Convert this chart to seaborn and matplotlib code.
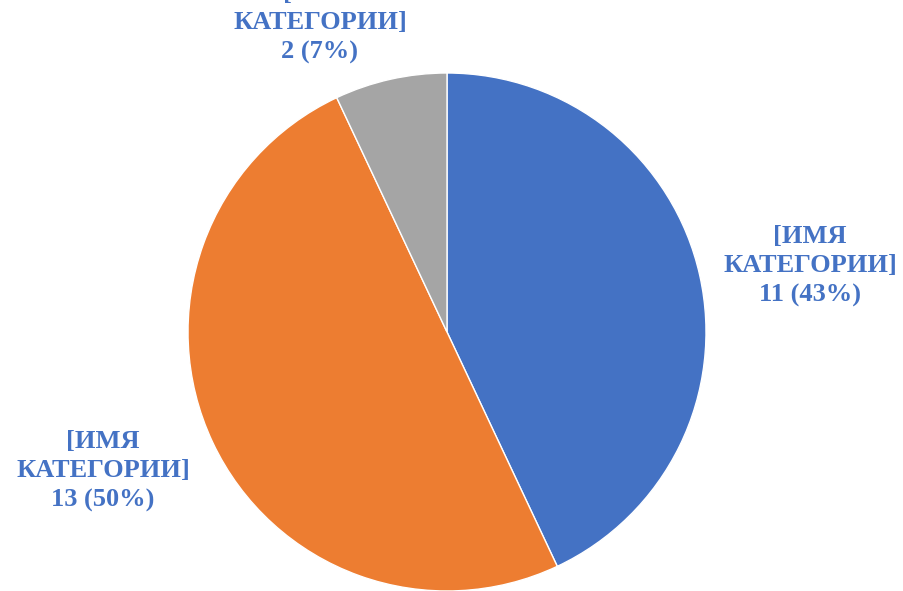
import matplotlib
matplotlib.use("Agg")
import matplotlib.pyplot as plt
import seaborn as sns

sns.set_theme(style="white")
plt.rcParams['font.family'] = ['Liberation Serif', 'DejaVu Serif']

categories = ["[ИМЯ КАТЕГОРИИ]", "[ИМЯ КАТЕГОРИИ]", "[ИМЯ КАТЕГОРИИ]"]
values = [11, 13, 2]
percents = [43, 50, 7]
colors = ["#4472C4", "#ED7D31", "#A5A5A5"]

W, H = 904, 591
fig = plt.figure(figsize=(W / 100, H / 100), dpi=100)
cx, cy, r = 447, 332, 259
ax = fig.add_axes([(cx - r) / W, (H - cy - r) / H, 2 * r / W, 2 * r / H])
ax.pie(percents, colors=colors, startangle=90, counterclock=False,
       wedgeprops=dict(edgecolor="white", linewidth=1), radius=1)
ax.set_xlim(-1, 1)
ax.set_ylim(-1, 1)
ax.set_aspect("equal")
ax.axis("off")

label_pos = [(810, 266), (103, 471), (320, 23)]
for cat, v, p, (lx, ly) in zip(categories, values, percents, label_pos):
    name1, name2 = cat.split(" ")
    txt = f"{name1}\n{name2}\n{v} ({p}%)"
    ax.text((lx - cx) / r, (cy - ly) / r, txt, ha="center", va="center",
            fontsize=19, fontweight="bold", color="#4472C4",
            linespacing=1.33, clip_on=False)

fig.savefig("out.png", dpi=100, facecolor="white")
